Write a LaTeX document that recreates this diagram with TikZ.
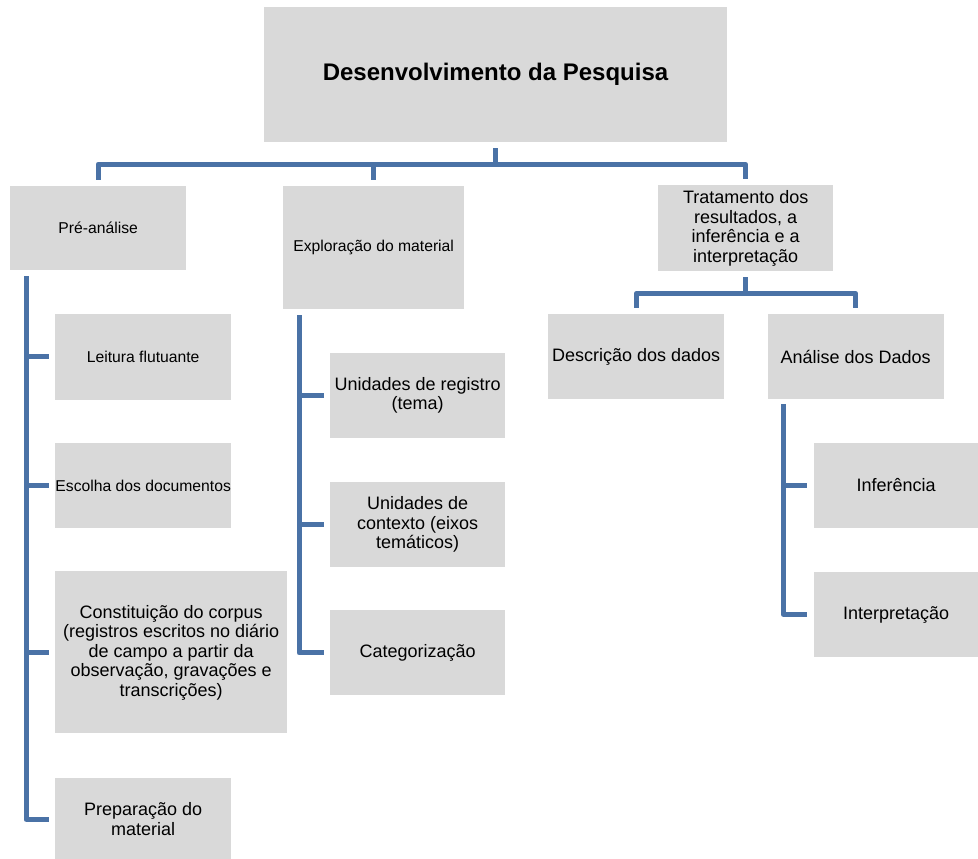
\documentclass[tikz,border=0pt]{standalone}
\usepackage{fontspec}
\setmainfont{Liberation Sans}
\usetikzlibrary{positioning}
\definecolor{boxgray}{HTML}{D9D9D9}
\definecolor{busblue}{HTML}{4A72A6}

\tikzset{
  box/.style={fill=boxgray, inner sep=0pt, align=center, font=\fontsize{18}{19.5}\selectfont},
  smallbox/.style={box, font=\fontsize{15.7}{19}\selectfont},
  bus/.style={draw=busblue, line width=5pt, line join=round}
}

\begin{document}
\begin{tikzpicture}[x=1pt, y=-1pt]
  \useasboundingbox (0,0) rectangle (978,859);

  \node (root) [box, minimum width=463pt, minimum height=135pt, font=\fontsize{24}{28}\selectfont\bfseries] at (495.5,74.5) {Desenvolvimento da Pesquisa};

  % top row
  \node (pre) [smallbox, anchor=north west, minimum width=176pt, minimum height=84pt] at (10,186) {Pré-análise};
  \node (expl) [smallbox, anchor=north west, minimum width=181pt, minimum height=123pt] at (283,186) {Exploração do material};
  \node (trat) [box, anchor=north west, minimum width=175pt, minimum height=86pt] at (658,185) {Tratamento dos\\resultados, a\\inferência e a\\interpretação};

  % pre-analise column
  \node (leitura) [smallbox, below right=43pt and 45pt of pre.south west, minimum width=176pt, minimum height=86pt] {Leitura flutuante};
  \node (escolha) [smallbox, below=43pt of leitura.south west, anchor=north west, minimum width=176pt, minimum height=85pt] {Escolha dos documentos};
  \node (corpus) [box, below=43pt of escolha.south west, anchor=north west, minimum width=232pt, minimum height=162pt] {Constituição do corpus\\(registros escritos no diário\\de campo a partir da\\observação, gravações e\\transcrições)};
  \node (prep) [box, below=44pt of corpus.south west, anchor=north west, minimum width=176pt, minimum height=83pt] {Preparação do\\material};

  % exploracao column
  \node (registro) [box, below right=43pt and 47pt of expl.south west, minimum width=175pt, minimum height=85pt] {Unidades de registro\\(tema)};
  \node (contexto) [box, below=44pt of registro.south west, anchor=north west, minimum width=175pt, minimum height=85pt] {Unidades de\\contexto (eixos\\temáticos)};
  \node (categ) [box, below=43pt of contexto.south west, anchor=north west, minimum width=175pt, minimum height=85pt] {Categorização};

  % tratamento column
  \node (descr) [box, anchor=north west, minimum width=176pt, minimum height=85pt] at (548,314) {Descrição dos dados};
  \node (anal) [box, right=43pt of descr, minimum width=176pt, minimum height=85pt] {Análise dos Dados};
  \node (infer) [box, below right=43pt and 46pt of anal.south west, minimum width=165pt, minimum height=85pt] {Inferência};
  \node (interp) [box, below=44pt of infer.south west, anchor=north west, minimum width=165pt, minimum height=85pt] {Interpretação};

  % connectors
  \draw[bus] ([shift={(0,6)}]root.south) -- ++(0,16) coordinate (rootbus);
  \foreach \n in {pre, expl, trat}
    \draw[bus] (rootbus) -| ([shift={(0,-6)}]\n.north);

  \draw[bus] ([shift={(0,6)}]trat.south) -- ++(0,16) coordinate (tratbus);
  \foreach \n in {descr, anal}
    \draw[bus] (tratbus) -| ([shift={(0,-6)}]\n.north);

  \foreach \n in {leitura, escolha, corpus, prep}
    \draw[bus] ([shift={(16,6)}]pre.south west) |- ([shift={(-6,0)}]\n.west);
  \foreach \n in {registro, contexto, categ}
    \draw[bus] ([shift={(16,6)}]expl.south west) |- ([shift={(-6,0)}]\n.west);
  \foreach \n in {infer, interp}
    \draw[bus] ([shift={(16,5)}]anal.south west) |- ([shift={(-6,0)}]\n.west);
\end{tikzpicture}
\end{document}
